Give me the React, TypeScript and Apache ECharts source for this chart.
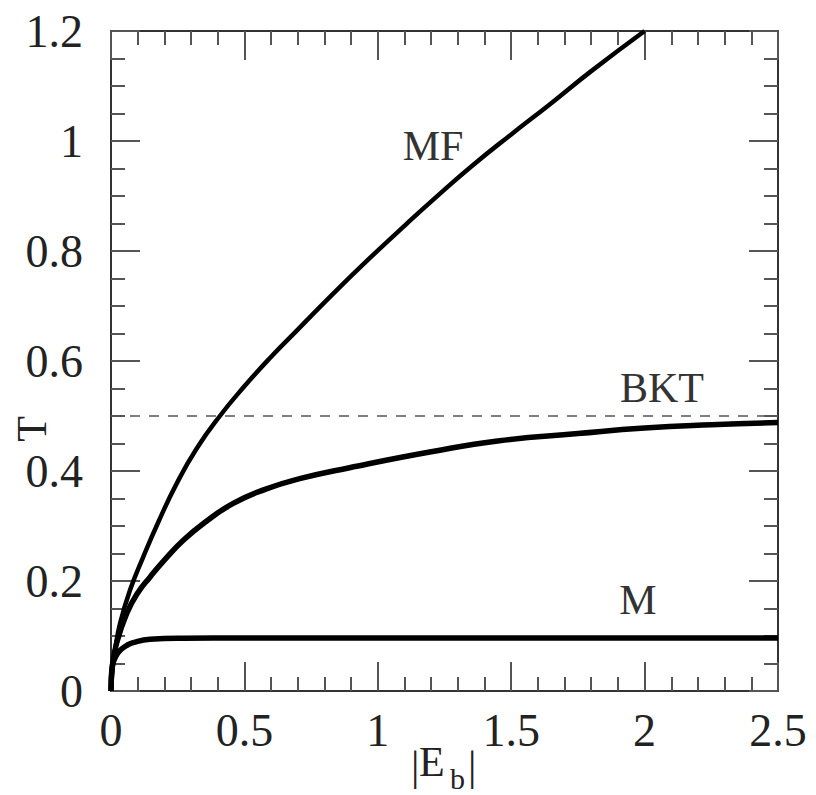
import React, { useEffect, useRef } from "react";
import * as echarts from "echarts";

// MF curve (|E_b|, T)
const mfE = [0, 0.004, 0.015, 0.034, 0.071, 0.121, 0.18, 0.246, 0.32, 0.408, 0.5, 0.595, 0.7, 0.832, 0.95, 1.107, 1.23, 1.356, 1.5, 1.643, 1.8, 2.0];
const mfT = [0, 0.035, 0.074, 0.123, 0.183, 0.244, 0.31, 0.377, 0.44, 0.5, 0.554, 0.605, 0.657, 0.722, 0.778, 0.849, 0.903, 0.956, 1.012, 1.066, 1.127, 1.2];

// BKT curve
const bktE = [0, 0.005, 0.021, 0.059, 0.1, 0.146, 0.2, 0.271, 0.35, 0.458, 0.58, 0.707, 0.894, 1.2, 1.456, 1.75, 2.0, 2.25, 2.5];
const bktT = [0, 0.045, 0.087, 0.141, 0.178, 0.207, 0.238, 0.274, 0.306, 0.341, 0.367, 0.386, 0.406, 0.435, 0.455, 0.468, 0.478, 0.484, 0.488];

// M curve
const mE = [0, 0.002, 0.006, 0.015, 0.034, 0.06, 0.083, 0.146, 0.27, 0.5, 1.0, 1.5, 2.0, 2.5];
const mT = [0, 0.03, 0.047, 0.06, 0.074, 0.083, 0.088, 0.094, 0.096, 0.0965, 0.0965, 0.0965, 0.0965, 0.0965];

// BKT asymptote (dashed)
const asymE = [0, 2.5];
const asymT = [0.5, 0.5];

const xTicks = { min: 0, max: 2.5, interval: 0.5 };
const yTicks = { min: 0, max: 1.2, interval: 0.2 };

const labels = [
  { text: "MF", x: 433, y: 146 },
  { text: "BKT", x: 662, y: 388 },
  { text: "M", x: 638, y: 600 },
];

const yTitle = "T";

const zip = (a: number[], b: number[]) => a.map((v, i) => [v, b[i]]);

const FONT = '"Liberation Serif", "Times New Roman", serif';

export default function App() {
  const ref = useRef<HTMLDivElement>(null);
  useEffect(() => {
    document.body.style.margin = "0";
    if (!ref.current) return;
    const chart = echarts.init(ref.current, undefined, { renderer: "svg" });
    const axisLine = { show: true, onZero: false, lineStyle: { color: "#333", width: 2 } };
    const axisTick = { show: true, inside: true, length: 29, lineStyle: { color: "#555", width: 2 } };
    const minorTickX = { show: true, splitNumber: 5, length: 14, lineStyle: { color: "#555", width: 2 } };
    const minorTickY = { show: true, splitNumber: 4, length: 14, lineStyle: { color: "#555", width: 2 } };
    const labelStyle = { fontFamily: FONT, fontSize: 46, color: "#222" };
    const lineSeries = (name: string, data: number[][], width: number) => ({
      name,
      type: "line",
      data,
      symbol: "none",
      smooth: 0.5,
      lineStyle: { color: "#000", width },
      z: 3,
    });
    chart.setOption({
      animation: false,
      grid: { left: 111, top: 31, right: 38, bottom: 104, containLabel: false, outerBoundsMode: "none" },
      xAxis: [
        {
          type: "value",
          ...xTicks,
          position: "bottom",
          axisLine,
          axisTick,
          minorTick: minorTickX,
          splitLine: { show: false },
          axisLabel: { ...labelStyle, margin: 16 },
        },
        {
          type: "value",
          ...xTicks,
          position: "top",
          axisLine,
          axisTick,
          minorTick: minorTickX,
          splitLine: { show: false },
          axisLabel: { show: false },
        },
      ],
      yAxis: [
        {
          type: "value",
          ...yTicks,
          position: "left",
          axisLine,
          axisTick,
          minorTick: minorTickY,
          splitLine: { show: false },
          axisLabel: { ...labelStyle, margin: 28 },
        },
        {
          type: "value",
          ...yTicks,
          position: "right",
          axisLine,
          axisTick,
          minorTick: minorTickY,
          splitLine: { show: false },
          axisLabel: { show: false },
        },
      ],
      series: [
        {
          name: "asymptote",
          type: "line",
          data: zip(asymE, asymT),
          symbol: "none",
          lineStyle: { color: "#555", width: 1.5, type: [10, 9] },
          z: 2,
        },
        lineSeries("MF", zip(mfE, mfT), 4.5),
        lineSeries("BKT", zip(bktE, bktT), 5.5),
        lineSeries("M", zip(mE, mT), 5.5),
      ],
      graphic: [
        ...labels.map((l) => ({
          type: "text",
          x: l.x,
          y: l.y,
          style: {
            text: l.text,
            font: `42px ${FONT}`,
            fill: "#333",
            textAlign: "center",
            textVerticalAlign: "middle",
          },
        })),
        {
          type: "text",
          x: 32,
          y: 429,
          rotation: Math.PI / 2,
          style: { text: yTitle, font: `42px ${FONT}`, fill: "#222", textAlign: "center", textVerticalAlign: "middle" },
        },
        { type: "text", x: 411, y: 766, style: { text: "|", font: `42px ${FONT}`, fill: "#222", textAlign: "left", textVerticalAlign: "middle" } },
        { type: "text", x: 419, y: 762, style: { text: "E", font: `42px ${FONT}`, fill: "#222", textAlign: "left", textVerticalAlign: "middle" } },
        { type: "text", x: 450, y: 778, style: { text: "b", font: `30px ${FONT}`, fill: "#222", textAlign: "left", textVerticalAlign: "middle" } },
        { type: "text", x: 468, y: 766, style: { text: "|", font: `42px ${FONT}`, fill: "#222", textAlign: "left", textVerticalAlign: "middle" } },
      ],
    });
    return () => chart.dispose();
  }, []);
  return <div ref={ref} style={{ width: 816, height: 795 }} />;
}
